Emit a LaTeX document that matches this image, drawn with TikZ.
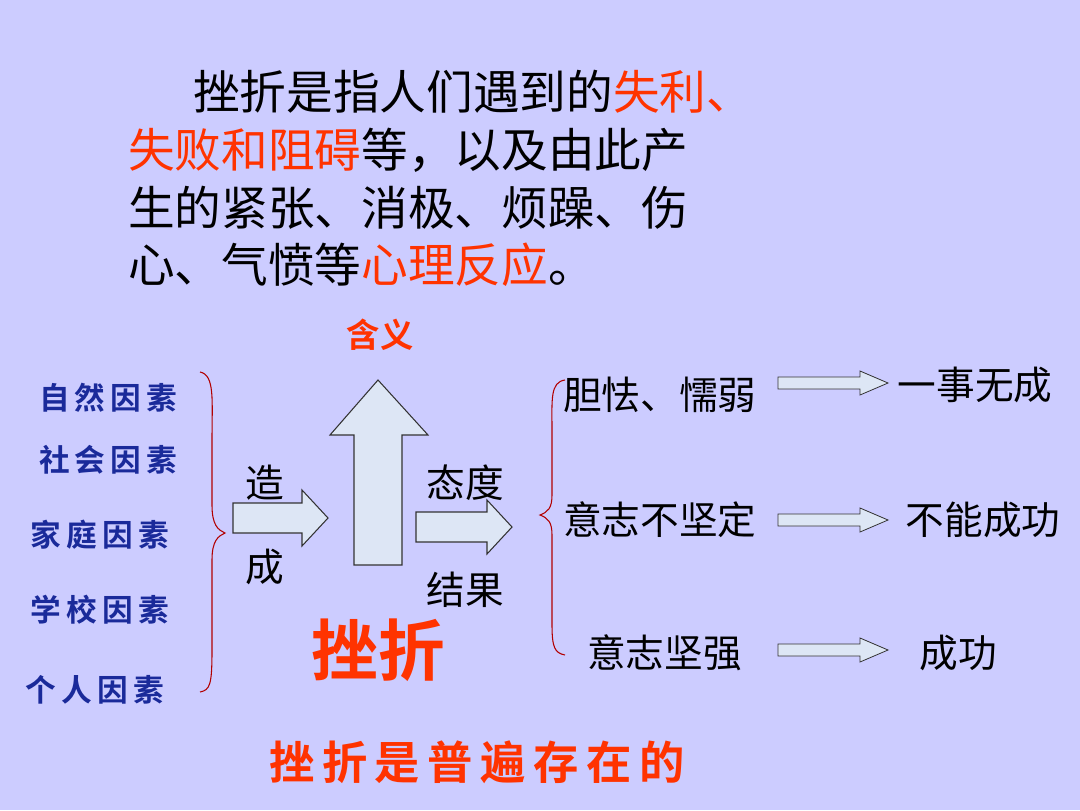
\documentclass[tikz,border=0pt]{standalone}
\usepackage{fontspec}
\setmainfont{Noto Sans CJK SC}
\newfontfamily\cjkb{Noto Sans CJK SC Bold}
\definecolor{bg}{HTML}{CCCCFF}
\definecolor{rd}{HTML}{FF3300}
\definecolor{bl}{HTML}{1A2A9A}
\definecolor{af}{HTML}{DDE6F5}
\tikzset{
 para/.style={anchor=west,inner sep=0,font=\fontsize{35}{38}\selectfont},
 fac/.style={text=bl,inner sep=0,font=\cjkb\fontsize{23}{25}\selectfont},
 lab/.style={inner sep=0,font=\fontsize{29}{32}\selectfont},
 blk/.style={draw=black!80,fill=af,line width=0.8pt},
 brc/.style={draw=red!70!black,line width=0.8pt}
}
\begin{document}
\begin{tikzpicture}[x=0.75pt,y=-0.75pt]
\fill[bg] (0,0) rectangle (1080,810);
\useasboundingbox (0,0) rectangle (1080,810);
\node[para] (p1) at (193,92) {挫折是指人们遇到的\textcolor{rd}{失利、}};
\node[para] (p2) at (128,150) {\textcolor{rd}{失败和阻碍}等，以及由此产};
\node[para] (p3) at (128,208) {生的紧张、消极、烦躁、伤};
\node[para] (p4) at (128,265) {心、气愤等\textcolor{rd}{心理反应}。};
\node[lab,text=rd,font=\cjkb\fontsize{25}{27}\selectfont] (hy) at (380,335) {含义};
\node[fac] (f1) at (108,398) {自\,然\,因\,素};
\node[fac] (f2) at (108,460) {社\,会\,因\,素};
\node[fac] (f3) at (100,535) {家\,庭\,因\,素};
\node[fac] (f4) at (100,610) {学\,校\,因\,素};
\node[fac] (f5) at (95,690) {个\,人\,因\,素};
\draw[brc] (200,372) .. controls (215,375) and (212,400) .. (212,440) -- (212,505) .. controls (212,525) and (218,530) .. (225,533) .. controls (218,536) and (212,541) .. (212,560) -- (212,650) .. controls (212,685) and (210,690) .. (200,692);
\draw[blk] (233,503) -- (302,503) -- (302,490) -- (328,518) -- (302,546) -- (302,533) -- (233,533) -- cycle;
\node[lab] (z1) at (265,483) {造};
\node[lab] (z2) at (265,567) {成};
\draw[blk] (354,565) -- (354,435) -- (330,435) -- (378,380) -- (428,435) -- (402,435) -- (402,565) -- cycle;
\draw[blk] (416,512) -- (487,512) -- (487,500) -- (512,527) -- (487,554) -- (487,542) -- (416,542) -- cycle;
\node[lab] (td) at (465,483) {态度};
\node[lab] (jg) at (465,590) {结果};
\node[inner sep=0,text=rd,font=\cjkb\fontsize{50}{54}\selectfont] (cz) at (378,650) {挫折};
\node[inner sep=0,text=rd,font=\cjkb\fontsize{34}{36}\selectfont] (bt) at (477,762) {挫\,折\,是\,普\,遍\,存\,在\,的};
\draw[brc] (565,380) .. controls (550,382) and (552,400) .. (552,430) -- (552,495) .. controls (552,508) and (548,512) .. (540,515) .. controls (548,518) and (552,522) .. (552,535) -- (552,625) .. controls (552,648) and (555,653) .. (565,655);
\node[lab,anchor=west] (r1) at (563,395) {胆怯、懦弱};
\node[lab,anchor=west] (r2) at (563,520) {意志不坚定};
\node[lab,anchor=west] (r3) at (587,653) {意志坚强};
\node[lab] (s1) at (975,385) {一事无成};
\node[lab] (s2) at (983,520) {不能成功};
\node[lab] (s3) at (958,653) {成功};
\foreach \y in {383,520,650}
 \draw[blk,line width=0.6pt] (778,\y-6) -- (860,\y-6) -- (860,\y-12) -- (888,\y) -- (860,\y+12) -- (860,\y+6) -- (778,\y+6) -- cycle;
\end{tikzpicture}
\end{document}
